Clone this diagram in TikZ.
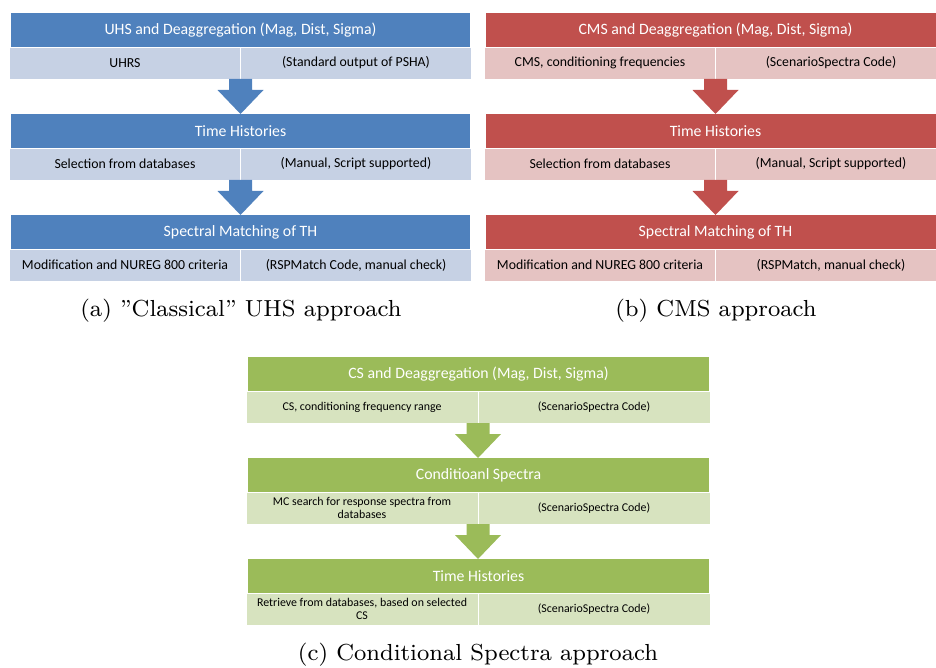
\documentclass[tikz,border=0pt]{standalone}
\usepackage{fontspec}
\usepackage{graphicx}
\usetikzlibrary{calc}

\newfontfamily\calib{Carlito}

\definecolor{uhsblue}{HTML}{4F81BD}
\definecolor{uhslight}{HTML}{C6D1E4}
\definecolor{cmsred}{HTML}{C0504D}
\definecolor{cmslight}{HTML}{E5C3C2}
\definecolor{csgreen}{HTML}{9BBB59}
\definecolor{cslight}{HTML}{D7E3BF}

\begin{document}
\begin{tikzpicture}[x=1pt, y=1pt,
        hdr/.style={rectangle, anchor=north west, minimum width=459pt, minimum height=34pt, inner sep=0pt, outer sep=0pt, text=white, font=\calib\fontsize{15.8}{18}\selectfont},
        cell/.style={rectangle, anchor=north west, draw=white, line width=0.8pt, minimum width=231pt, minimum height=32pt, inner sep=0pt, outer sep=0pt, align=center, font=\calib\fontsize{13.8}{15}\selectfont},
        small/.style={font=\calib\fontsize{11.9}{12.5}\selectfont},
        cap/.style={font=\fontsize{8}{10}\selectfont},
        flow/.style={to path={let \p1=(\tikztostart), \p2=(\tikztotarget) in
            (\x1-11.5pt,\y1) -- (\x1+11.5pt,\y1) -- (\x1+11.5pt,\y2+24pt) -- (\x1+23pt,\y2+24pt)
            -- (\x1,\y2) -- (\x1-23pt,\y2+24pt) -- (\x1-11.5pt,\y2+24pt) -- cycle}}
    ]
        \path[use as bounding box, clip] (0,0) rectangle (936,-668);

        % (a) UHS approach
        \node[hdr, fill=uhsblue] (ua1) at (11,-13) {UHS and Deaggregation (Mag, Dist, Sigma)};
        \node[cell, fill=uhslight] (ul1) at (9.5,-47) {UHRS};
        \node[cell, fill=uhslight] (ur1) at (240.5,-47) {(Standard output of PSHA)};
        \node[hdr, fill=uhsblue] (ua2) at (11,-114) {Time Histories};
        \node[cell, fill=uhslight] (ul2) at (9.5,-148) {Selection from databases};
        \node[cell, fill=uhslight] (ur2) at (240.5,-148) {(Manual, Script supported)};
        \node[hdr, fill=uhsblue] (ua3) at (11,-215) {Spectral Matching of TH};
        \node[cell, fill=uhslight] (ul3) at (9.5,-249) {Modification and NUREG 800 criteria};
        \node[cell, fill=uhslight] (ur3) at (240.5,-249) {(RSPMatch Code, manual check)};

        \fill[uhsblue] (ul1.south east) to[flow] (ua2.north);
        \fill[uhsblue] (ul2.south east) to[flow] (ua3.north);

        \node (capa) at (241,-311) {\scalebox{2.9}{\fontsize{8}{10}\selectfont (a) ''Classical'' UHS approach}};

        % (b) CMS approach
        \node[hdr, fill=cmsred] (ma1) at (486,-13) {CMS and Deaggregation (Mag, Dist, Sigma)};
        \node[cell, fill=cmslight] (ml1) at (484.5,-47) {CMS, conditioning frequencies};
        \node[cell, fill=cmslight] (mr1) at (715.5,-47) {(ScenarioSpectra Code)};
        \node[hdr, fill=cmsred] (ma2) at (486,-114) {Time Histories};
        \node[cell, fill=cmslight] (ml2) at (484.5,-148) {Selection from databases};
        \node[cell, fill=cmslight] (mr2) at (715.5,-148) {(Manual, Script supported)};
        \node[hdr, fill=cmsred] (ma3) at (486,-215) {Spectral Matching of TH};
        \node[cell, fill=cmslight] (ml3) at (484.5,-249) {Modification and NUREG 800 criteria};
        \node[cell, fill=cmslight] (mr3) at (715.5,-249) {(RSPMatch, manual check)};

        \fill[cmsred] (ml1.south east) to[flow] (ma2.north);
        \fill[cmsred] (ml2.south east) to[flow] (ma3.north);

        \node (capb) at (716,-311) {\scalebox{2.9}{\fontsize{8}{10}\selectfont (b) CMS approach}};

        % (c) Conditional Spectra approach
        \node[hdr, minimum width=461pt, fill=csgreen] (ca1) at (248,-357) {CS and Deaggregation (Mag, Dist, Sigma)};
        \node[cell, small, minimum width=232pt, fill=cslight] (cl1) at (246,-391) {CS, conditioning frequency range};
        \node[cell, small, minimum width=232pt, fill=cslight] (cr1) at (478,-391) {(ScenarioSpectra Code)};
        \node[hdr, minimum width=461pt, fill=csgreen] (ca2) at (248,-458) {Conditioanl Spectra};
        \node[cell, small, minimum width=232pt, fill=cslight] (cl2) at (246,-492) {MC search for response spectra from\\databases};
        \node[cell, small, minimum width=232pt, fill=cslight] (cr2) at (478,-492) {(ScenarioSpectra Code)};
        \node[hdr, minimum width=461pt, fill=csgreen] (ca3) at (248,-559) {Time Histories};
        \node[cell, small, minimum width=232pt, fill=cslight] (cl3) at (246,-593) {Retrieve from databases, based on selected\\CS};
        \node[cell, small, minimum width=232pt, fill=cslight] (cr3) at (478,-593) {(ScenarioSpectra Code)};

        \fill[csgreen] (cl1.south east) to[flow] (ca2.north);
        \fill[csgreen] (cl2.south east) to[flow] (ca3.north);

        \node (capc) at (478,-655) {\scalebox{2.9}{\fontsize{8}{10}\selectfont (c) Conditional Spectra approach}};

    \end{tikzpicture}
\end{document}
